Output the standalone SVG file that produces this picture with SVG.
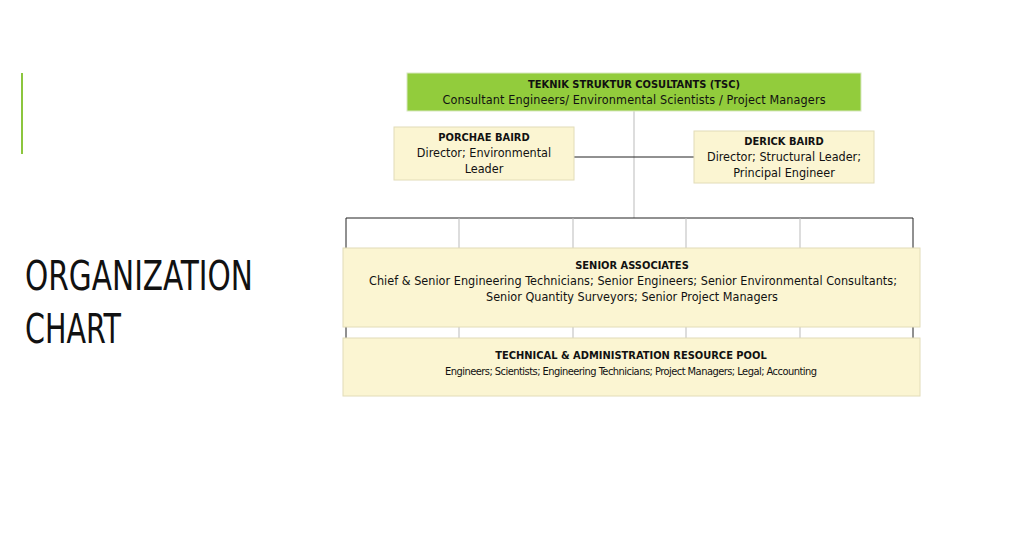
<svg xmlns="http://www.w3.org/2000/svg" width="1027" height="559" viewBox="0 0 1027 559">
<style>
.t{font-family:"DejaVu Sans Condensed","DejaVu Sans",sans-serif;font-stretch:condensed;text-anchor:middle;fill:#111}
.b{font-weight:bold;font-size:11px}
.n{font-size:12.5px}
.box{fill:#fbf5d2;stroke:#e2dcb8;stroke-width:1}
.ln{stroke:#222;stroke-width:1;fill:none}
.lg{stroke:#bbb;stroke-width:1;fill:none}
</style>
<rect width="1027" height="559" fill="#fff"/>
<line x1="22" y1="73" x2="22" y2="154" stroke="#8cc63e" stroke-width="2"/>
<text x="25" y="290" font-family="DejaVu Sans Condensed,DejaVu Sans,sans-serif" font-stretch="condensed" font-size="41" fill="#111" textLength="228" lengthAdjust="spacingAndGlyphs">ORGANIZATION</text>
<text x="25" y="343" font-family="DejaVu Sans Condensed,DejaVu Sans,sans-serif" font-stretch="condensed" font-size="41" fill="#111" textLength="96" lengthAdjust="spacingAndGlyphs">CHART</text>
<g id="connectors">
<line class="lg" x1="634" y1="111" x2="634" y2="218"/>
<line class="ln" x1="574" y1="157" x2="694" y2="157"/>
<path class="ln" d="M346 248V218H913V248"/>
<path class="lg" d="M459 218V248M573 218V248M686 218V248M800 218V248"/>
<path class="ln" d="M346 327V338M913 327V338"/>
<path class="lg" d="M459 327V338M573 327V338M686 327V338M800 327V338"/>
</g>
<g id="tsc">
<rect x="407" y="73" width="454" height="38" fill="#92cc3c" stroke="#d8e8c0"/>
<text class="t b" x="634" y="88">TEKNIK STRUKTUR COSULTANTS (TSC)</text>
<text class="t n" x="634" y="104" textLength="383">Consultant Engineers/ Environmental Scientists / Project Managers</text>
</g>
<g id="porchae">
<rect class="box" x="394" y="127" width="180" height="53"/>
<text class="t b" x="484" y="141">PORCHAE BAIRD</text>
<text class="t n" x="484" y="157">Director; Environmental</text>
<text class="t n" x="484" y="173">Leader</text>
</g>
<g id="derick">
<rect class="box" x="694" y="131" width="180" height="52"/>
<text class="t b" x="784" y="145">DERICK BAIRD</text>
<text class="t n" x="784" y="161">Director; Structural Leader;</text>
<text class="t n" x="784" y="177">Principal Engineer</text>
</g>
<g id="senior">
<rect class="box" x="343" y="248" width="577" height="79"/>
<text class="t b" x="632" y="269">SENIOR ASSOCIATES</text>
<text class="t n" x="633" y="285" textLength="528">Chief &amp; Senior Engineering Technicians; Senior Engineers; Senior Environmental Consultants;</text>
<text class="t n" x="632" y="301">Senior Quantity Surveyors; Senior Project Managers</text>
</g>
<g id="pool">
<rect class="box" x="343" y="338" width="577" height="58"/>
<text class="t b" x="631" y="359">TECHNICAL &amp; ADMINISTRATION RESOURCE POOL</text>
<text class="t" x="631" y="375" font-size="11" textLength="372">Engineers; Scientists; Engineering Technicians; Project Managers; Legal; Accounting</text>
</g>
</svg>
